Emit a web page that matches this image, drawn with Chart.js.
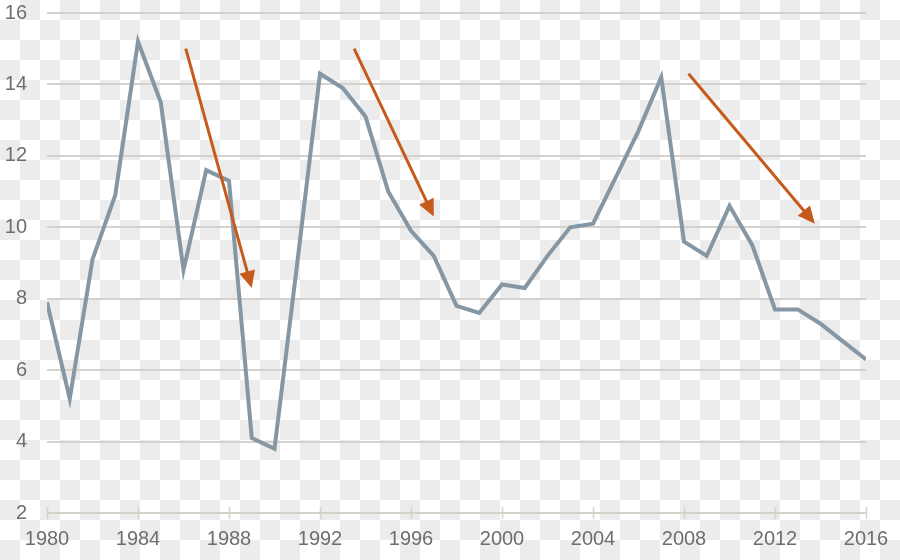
<!DOCTYPE html>
<html>
<head>
<meta charset="utf-8">
<script src="https://cdn.jsdelivr.net/npm/chart.js@4/dist/chart.umd.min.js"></script>
<style>
  html, body { margin: 0; padding: 0; }
  body {
    width: 900px; height: 560px; overflow: hidden;
    background: repeating-conic-gradient(#ececec 0% 25%, #ffffff 0% 50%) 0 0 / 40px 40px;
  }
  canvas { display: block; }
</style>
</head>
<body>
<canvas id="grafico" width="900" height="560"></canvas>
<script>
// datos
const years = [1980, 1981, 1982, 1983, 1984, 1985, 1986, 1987, 1988, 1989,
  1990, 1991, 1992, 1993, 1994, 1995, 1996, 1997, 1998, 1999,
  2000, 2001, 2002, 2003, 2004, 2005, 2006, 2007, 2008, 2009,
  2010, 2011, 2012, 2013, 2014, 2015, 2016];
const values = [7.9, 5.2, 9.1, 10.9, 15.2, 13.5, 8.8, 11.6, 11.3, 4.1,
  3.8, 9.0, 14.3, 13.9, 13.1, 11.0, 9.9, 9.2, 7.8, 7.6,
  8.4, 8.3, 9.2, 10.0, 10.1, 11.4, 12.7, 14.2, 9.6, 9.2,
  10.6, 9.5, 7.7, 7.7, 7.3, 6.8, 6.3];
const xTicks = [1980, 1984, 1988, 1992, 1996, 2000, 2004, 2008, 2012, 2016];
const yTicks = [2, 4, 6, 8, 10, 12, 14, 16];

// flechas: [año, valor] inicio -> fin
const arrowFrom = [[1986.1, 15.0], [1993.5, 15.0], [2008.2, 14.3]];
const arrowTo = [[1989.0, 8.3], [1997.0, 10.3], [2013.75, 10.1]];

const textColor = "#6e6e6e";
const gridColor = "#d6d1ca";

// flechas y marcas del eje x
const annotPlugin = {
  id: "annot",
  afterDatasetsDraw(chart) {
    const ctx = chart.ctx;
    const xs = chart.scales.x, ys = chart.scales.y;
    ctx.save();
    // marcas
    ctx.strokeStyle = gridColor;
    ctx.lineWidth = 1.5;
    const yb = ys.getPixelForValue(2);
    xTicks.forEach(t => {
      const px = Math.round(xs.getPixelForValue(t)) + 0.5;
      ctx.beginPath();
      ctx.moveTo(px, yb - 6);
      ctx.lineTo(px, yb + 6);
      ctx.stroke();
    });
    // flechas
    ctx.strokeStyle = "#c65a1c";
    ctx.fillStyle = "#c65a1c";
    ctx.lineWidth = 3;
    arrowFrom.forEach((a, i) => {
      const x1 = xs.getPixelForValue(a[0]), y1 = ys.getPixelForValue(a[1]);
      const x2 = xs.getPixelForValue(arrowTo[i][0]), y2 = ys.getPixelForValue(arrowTo[i][1]);
      const ang = Math.atan2(y2 - y1, x2 - x1);
      const head = 17, half = 8;
      const bx = x2 - head * Math.cos(ang), by = y2 - head * Math.sin(ang);
      ctx.beginPath();
      ctx.moveTo(x1, y1);
      ctx.lineTo(bx + 2 * Math.cos(ang), by + 2 * Math.sin(ang));
      ctx.stroke();
      ctx.beginPath();
      ctx.moveTo(x2, y2);
      ctx.lineTo(bx + half * Math.sin(ang), by - half * Math.cos(ang));
      ctx.lineTo(bx - half * Math.sin(ang), by + half * Math.cos(ang));
      ctx.closePath();
      ctx.fill();
    });
    ctx.restore();
  }
};

new Chart(document.getElementById("grafico"), {
  type: "line",
  data: {
    datasets: [{
      data: years.map((y, i) => ({ x: y, y: values[i] })),
      borderColor: "#8597a4",
      borderWidth: 4,
      pointRadius: 0,
      tension: 0,
      borderJoinStyle: "miter"
    }]
  },
  options: {
    responsive: false,
    animation: false,
    devicePixelRatio: 1,
    layout: { padding: { top: 13, right: 34, left: 0, bottom: 0 } },
    plugins: { legend: { display: false }, tooltip: { enabled: false } },
    scales: {
      x: {
        type: "linear",
        min: 1980,
        max: 2016,
        afterBuildTicks: s => { s.ticks = xTicks.map(v => ({ value: v })); },
        afterFit: s => { s.height = 47; s.paddingLeft = 0; s.paddingRight = 0; },
        grid: { display: false },
        border: { display: false },
        ticks: {
          color: textColor,
          font: { family: "'Liberation Sans', Arial, sans-serif", size: 20 },
          padding: 6,
          maxRotation: 0,
          autoSkip: false,
          callback: v => String(v)
        }
      },
      y: {
        min: 2,
        max: 16,
        afterBuildTicks: s => { s.ticks = yTicks.map(v => ({ value: v })); },
        afterFit: s => { s.width = 47; s.paddingTop = 0; s.paddingBottom = 0; },
        grid: {
          color: gridColor,
          lineWidth: 2,
          drawTicks: false
        },
        border: { display: false },
        ticks: {
          color: textColor,
          font: { family: "'Liberation Sans', Arial, sans-serif", size: 20 },
          padding: 20,
          autoSkip: false
        }
      }
    }
  },
  plugins: [annotPlugin]
});
</script>
</body>
</html>
